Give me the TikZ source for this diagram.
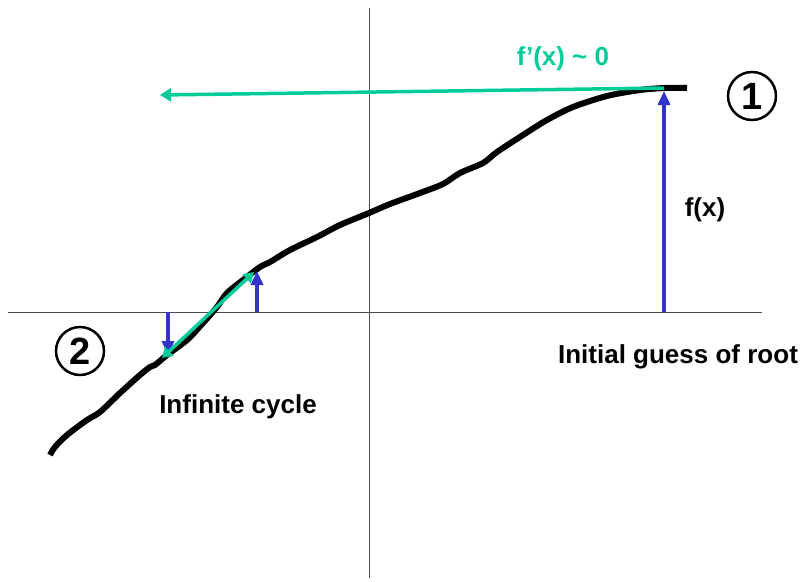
\documentclass[tikz,border=0pt]{standalone}
\usepackage{fontspec}
\setmainfont{Liberation Sans}
\usetikzlibrary{arrows.meta}
\definecolor{tgreen}{RGB}{0,204,153}
\definecolor{tblue}{RGB}{51,51,204}
\begin{document}
\begin{tikzpicture}[x=1pt,y=-1pt,
  axis/.style={draw=black!70, line width=1pt},
  curve/.style={line width=6pt, line join=round, line cap=butt},
  greenarrow/.style={draw=tgreen, line width=3.5pt, -{Triangle[width=13pt,length=11pt]}},
  bluearrow/.style={draw=tblue, line width=3.5pt, -{Triangle[width=12pt,length=14pt]}},
  lbl/.style={font=\bfseries\fontsize{26}{30}\selectfont, inner sep=0pt},
  circnum/.style={draw, circle, line width=2.5pt, minimum size=48pt, inner sep=0pt, font=\bfseries\fontsize{38}{42}\selectfont}]
\useasboundingbox (0,0) rectangle (803,581);
% axes
\coordinate (xl) at (8,312);
\coordinate (xr) at (762,312);
\coordinate (yt) at (369,8);
\coordinate (yb) at (369,578);
\draw[axis] (xl) -- (xr);
\draw[axis] (yt) -- (yb);
% curve
\draw[curve] plot[smooth, tension=0.5] coordinates {
 (50,455) (55,447) (67,435) (87,420) (100,412) (120,393) (140,375) (150,367)
 (155,365) (167,355) (187,340) (203,323) (217,307) (227,293) (243,280) (260,267)
 (270,262) (290,250) (317,237) (340,225) (369,213) (390,204) (420,193) (443,184)
 (460,173) (483,163) (497,152) (523,135) (547,120) (573,107) (607,96) (640,90) (665,88) (687,88)};
% big arrows
\coordinate (p1) at (664,88);
\coordinate (p1b) at (664,312);
\coordinate (gend) at (160,95);
\draw[bluearrow] (p1b) -- (664,91);
\draw[greenarrow] (p1) -- (gend);
% tangent cycle
\coordinate (a) at (257,312);
\coordinate (at) at (257,271);
\coordinate (b) at (168,312);
\coordinate (bt) at (168,355);
\coordinate (t1) at (162,358);
\coordinate (t2) at (254,272);
\draw[bluearrow] (a) -- (at);
\draw[bluearrow] (b) -- (bt);
\draw[draw=tgreen, line width=3.5pt, {Triangle[width=12pt,length=10pt]}-{Triangle[width=12pt,length=10pt]}] (t1) -- (t2);
% labels
\node[lbl, text=tgreen] (fp) at (563,59) {f’(x) \char`\~{} 0};
\node[lbl] (fx) at (705,210) {f(x)};
\node[lbl] (ig) at (678,357) {Initial guess of root};
\node[lbl] (ic) at (238,407) {Infinite cycle};
\node[circnum] (c1) at (752,96) {1};
\node[circnum] (c2) at (80,351) {2};
\end{tikzpicture}
\end{document}
